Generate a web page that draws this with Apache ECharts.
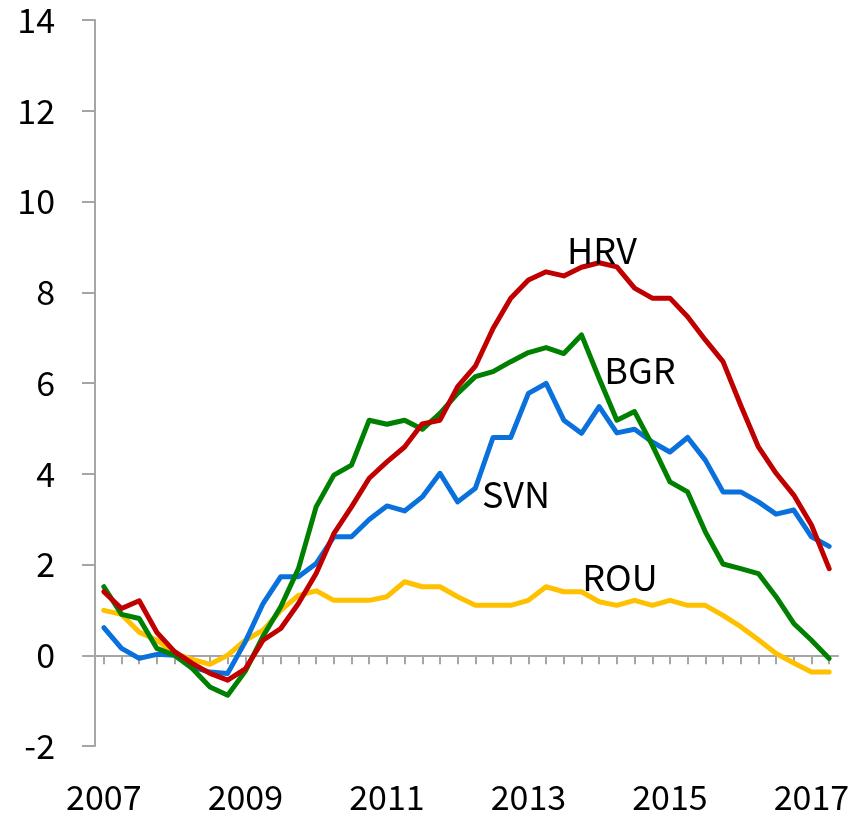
<!DOCTYPE html>
<html>
<head>
<meta charset="utf-8">
<script src="https://cdn.jsdelivr.net/npm/echarts@6/dist/echarts.min.js"></script>
<style>
  html, body { margin: 0; padding: 0; background: #fff; }
  #main { width: 865px; height: 817px; }
</style>
</head>
<body>
<div id="main"></div>
<script>
// quarterly, 2007Q1 .. 2017Q2
var firstYear = 2007;
var quarterCount = 42;
var categories = [];
for (var q = 0; q < quarterCount; q++) {
  categories.push((firstYear + Math.floor(q / 4)) + 'Q' + (q % 4 + 1));
}

var hrv = [1.40, 1.03, 1.20, 0.50, 0.08, -0.18, -0.40, -0.55, -0.30, 0.33,
  0.59, 1.14, 1.80, 2.68, 3.27, 3.90, 4.26, 4.59, 5.10, 5.18,
  5.92, 6.37, 7.20, 7.87, 8.27, 8.45, 8.36, 8.55, 8.65, 8.56,
  8.09, 7.87, 7.87, 7.46, 6.95, 6.47, 5.51, 4.59, 4.01, 3.53,
  2.87, 1.91];
var bgr = [1.51, 0.90, 0.81, 0.15, 0.00, -0.29, -0.70, -0.88, -0.35, 0.42,
  1.07, 1.91, 3.27, 3.97, 4.19, 5.18, 5.09, 5.18, 4.98, 5.33,
  5.77, 6.14, 6.25, 6.47, 6.67, 6.78, 6.65, 7.06, 6.10, 5.18,
  5.37, 4.63, 3.82, 3.60, 2.72, 2.01, 1.91, 1.80, 1.29, 0.70,
  0.33, -0.07];
var svn = [0.61, 0.15, -0.07, 0.02, 0.00, -0.26, -0.37, -0.40, 0.30, 1.14,
  1.73, 1.73, 2.02, 2.61, 2.61, 2.99, 3.29, 3.18, 3.49, 4.01,
  3.38, 3.68, 4.80, 4.80, 5.77, 5.99, 5.18, 4.89, 5.48, 4.90,
  4.98, 4.70, 4.48, 4.80, 4.30, 3.60, 3.60, 3.38, 3.11, 3.20,
  2.61, 2.40];
var rou = [0.99, 0.90, 0.51, 0.33, 0.04, -0.09, -0.20, 0.00, 0.33, 0.55,
  0.99, 1.32, 1.42, 1.21, 1.21, 1.21, 1.29, 1.62, 1.51, 1.51,
  1.29, 1.10, 1.10, 1.10, 1.21, 1.51, 1.40, 1.40, 1.18, 1.10,
  1.21, 1.10, 1.21, 1.10, 1.10, 0.88, 0.63, 0.34, 0.04, -0.17,
  -0.37, -0.37];

var FONT = '"Noto Sans CJK KR", "Open Sans", sans-serif';
var AXIS_GRAY = '#A6A6A6';

function line(name, data, color) {
  return {
    name: name,
    type: 'line',
    xAxisIndex: 0,
    data: data,
    symbol: 'none',
    smooth: false,
    lineStyle: { color: color, width: 5, join: 'round', cap: 'round' },
    itemStyle: { color: color },
    z: 3
  };
}

function tag(text, x, y) {
  return {
    type: 'text',
    x: x,
    y: y,
    style: {
      text: text,
      fill: '#000',
      font: '36px ' + FONT,
      textAlign: 'center',
      textVerticalAlign: 'middle'
    },
    z: 10
  };
}

var myChart = echarts.init(document.getElementById('main'));
myChart.setOption({
  animation: false,
  backgroundColor: '#fff',
  grid: { left: 95, right: 27, top: 20, bottom: 71, containLabel: false, outerBoundsMode: 'none' },
  xAxis: [
    {
      // zero line with quarterly ticks
      type: 'category',
      data: categories,
      boundaryGap: true,
      axisLine: { onZero: true, lineStyle: { color: AXIS_GRAY, width: 2 } },
      axisTick: { show: true, interval: 0, alignWithLabel: true, length: 9, lineStyle: { color: AXIS_GRAY, width: 2 } },
      axisLabel: { show: false },
      splitLine: { show: false }
    },
    {
      // year labels along the bottom
      type: 'category',
      data: categories,
      position: 'bottom',
      boundaryGap: true,
      axisLine: { show: false, onZero: false },
      axisTick: { show: false },
      axisLabel: {
        interval: 7,
        margin: 34,
        color: '#000',
        fontSize: 34,
        fontFamily: FONT,
        formatter: function (v) { return v.slice(0, 4); }
      },
      splitLine: { show: false }
    }
  ],
  yAxis: {
    type: 'value',
    min: -2,
    max: 14,
    interval: 2,
    axisLine: { show: true, lineStyle: { color: AXIS_GRAY, width: 2 } },
    axisTick: { show: true, length: 13, lineStyle: { color: AXIS_GRAY, width: 2 } },
    axisLabel: { margin: 40, color: '#000', fontSize: 34, fontFamily: FONT },
    splitLine: { show: false }
  },
  graphic: [
    tag('HRV', 602, 250),
    tag('BGR', 640, 370),
    tag('SVN', 516, 494),
    tag('ROU', 620, 577)
  ],
  series: [
    line('ROU', rou, '#FFC000'),
    line('SVN', svn, '#0A70DC'),
    line('BGR', bgr, '#008000'),
    line('HRV', hrv, '#C00000')
  ]
});
</script>
</body>
</html>
